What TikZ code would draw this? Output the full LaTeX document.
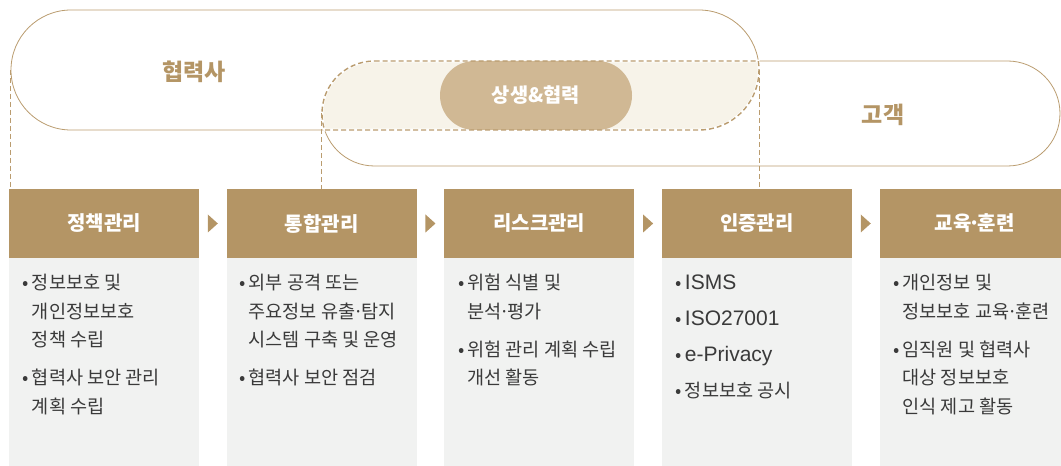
\documentclass[tikz,border=0pt]{standalone}
\usepackage{fontspec}
\setmainfont{Noto Sans CJK KR}
\newfontfamily\latinfont{Liberation Sans}
\usetikzlibrary{positioning,calc,shapes.misc}

\definecolor{gold}{RGB}{180,149,101}
\definecolor{pillline}{RGB}{186,156,111}
\definecolor{coopfill}{RGB}{208,184,148}
\definecolor{overlapfill}{RGB}{247,243,233}
\definecolor{bodygray}{RGB}{241,242,241}
\definecolor{textgray}{RGB}{58,58,58}

\newcommand{\itm}[1]{\makebox[9pt][l]{•}#1}
\newcommand{\cnt}{\hspace*{9pt}}
\newcommand{\md}{\makebox[6pt]{·}}
\newcommand{\lat}[1]{{\latinfont\fontsize{21}{28.5}\selectfont #1}}

\begin{document}
\begin{tikzpicture}[x=1pt, y=1pt,
  pill/.style={rounded rectangle, draw=pillline, line width=0.8pt, inner sep=0pt},
  head/.style={fill=gold, text=white, minimum width=190pt, minimum height=69pt,
    inner sep=0pt, font=\fontsize{20}{22}\selectfont\bfseries},
  body/.style={fill=bodygray, minimum width=190pt, minimum height=208pt, inner sep=0pt},
  txt/.style={align=left, inner sep=0pt, text=textgray, font=\fontsize{18.6}{28.5}\selectfont},
  toplabel/.style={text=gold, font=\fontsize{23}{24}\selectfont\bfseries},
  guide/.style={draw=pillline, dash pattern=on 5pt off 3pt, line width=1.4pt},
  tri/.style={fill=gold}]
\useasboundingbox (0,0) rectangle (1061,466);

% two groups
\node[pill, minimum width=748pt, minimum height=120pt] (partner) at (385,396) {};
\node[pill, minimum width=738pt, minimum height=105pt] (customer) at (691,352.5) {};

% overlap of the two
\draw[white, line width=2.6pt, fill=overlapfill] (374.5,405) -- (758.3,405)
  arc[start angle=8.63, end angle=-90, radius=60] -- (324.66,336)
  arc[start angle=198.32, end angle=90, radius=52.5] -- cycle;
\node[rounded rectangle, fill=coopfill, text=white, minimum width=192pt, minimum height=69pt,
  inner sep=0pt, font=\fontsize{19.8}{21}\selectfont\bfseries] (coop) at (536,370.5) {상생\&협력};
\draw[guide] (374.5,405) -- (758.3,405)
  arc[start angle=8.63, end angle=-90, radius=60] -- (324.66,336)
  arc[start angle=198.32, end angle=90, radius=52.5] -- cycle;

\node[toplabel] (partnerlbl) at (194,394) {협력사};
\node[toplabel] (customerlbl) at (883,351) {고객};

% step boxes
\node[head] (h1) at (104,242.5) {정책관리};
\node[head, right=27.25pt of h1] (h2) {통합관리};
\node[head, right=27.25pt of h2] (h3) {리스크관리};
\node[head, right=27.25pt of h3] (h4) {인증관리};
\node[head, right=27.25pt of h4] (h5) {교육\md 훈련};
\foreach \n in {1,...,5} \node[body, below=0pt of h\n] (b\n) {};
\foreach \a/\b in {h1/h2,h2/h3,h3/h4,h4/h5}
  \fill[tri] ($(\a.east)!0.5!(\b.west)+(-5,9)$) -- ++(10,-9) -- ++(-10,-9) -- cycle;

% dashed guides down to the boxes
\draw[guide] (partner.west) -- (partner.west |- h1.north);
\draw[guide] (customer.west) -- (customer.west |- h2.north);
\draw[guide] (partner.east) -- (partner.east |- h4.north);

% texts
\node[txt, below right=16pt and 14pt of b1.north west] (t1)
  {\itm{정보보호 및}\\ \cnt 개인정보보호\\ \cnt 정책 수립\\[9.5pt]
   \itm{협력사 보안 관리}\\ \cnt 계획 수립};
\node[txt, below right=16pt and 13pt of b2.north west] (t2)
  {\itm{외부 공격 또는}\\ \cnt 주요정보 유출\md 탐지\\ \cnt 시스템 구축 및 운영\\[9.5pt]
   \itm{협력사 보안 점검}};
\node[txt, below right=16pt and 14pt of b3.north west] (t3)
  {\itm{위험 식별 및}\\ \cnt 분석\md 평가\\[9.5pt]
   \itm{위험 관리 계획 수립}\\ \cnt 개선 활동};
\node[txt, below right=16pt and 14pt of b4.north west] (t4)
  {\itm{\lat{ISMS}}\\[7.5pt] \itm{\lat{ISO27001}}\\[7.5pt] \itm{\lat{e-Privacy}}\\[7.5pt] \itm{정보보호 공시}};
\node[txt, below right=16pt and 14pt of b5.north west] (t5)
  {\itm{개인정보 및}\\ \cnt 정보보호 교육\md 훈련\\[9.5pt]
   \itm{임직원 및 협력사}\\ \cnt 대상 정보보호\\ \cnt 인식 제고 활동};
\end{tikzpicture}
\end{document}
